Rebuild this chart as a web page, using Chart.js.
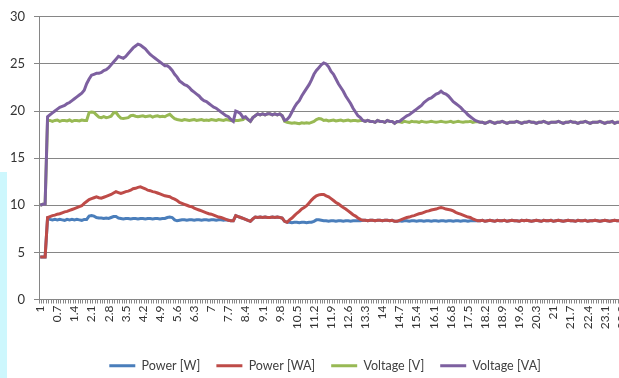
<!DOCTYPE html>
<html>
<head>
<meta charset="utf-8">
<title>Power / Voltage</title>
<script src="https://cdn.jsdelivr.net/npm/chart.js@4.4.0/dist/chart.umd.min.js"></script>
<style>
  html, body { margin: 0; padding: 0; background: #fff; overflow: hidden; }
  #wrap { position: relative; width: 669px; height: 382px; }
  #strip { position: absolute; left: 0; top: 172px; width: 7px; height: 210px; background: #cdf7fd; }
</style>
</head>
<body>
<div id="wrap">
  <canvas id="myChart" width="669" height="382"></canvas>
  <div id="strip"></div>
</div>
<script>
// labels shown under every 7th category
const tickLabels = ["1", "0.7", "1.4", "2.1", "2.8", "3.5", "4.2", "4.9", "5.6", "6.3", "7", "7.7",
  "8.4", "9.1", "9.8", "10.5", "11.2", "11.9", "12.6", "13.3", "14", "14.7", "15.4", "16.1",
  "16.8", "17.5", "18.2", "18.9", "19.6", "20.3", "21", "21.7", "22.4", "23.1", "23.8", "24.5"];

const powerW = [
  4.5, 4.5, 4.5, 8.6, 8.5, 8.45, 8.5, 8.45, 8.5, 8.45,
  8.4, 8.5, 8.45, 8.5, 8.45, 8.5, 8.45, 8.4, 8.5, 8.5,
  8.85, 8.9, 8.85, 8.7, 8.65, 8.65, 8.6, 8.65, 8.6, 8.7,
  8.8, 8.8, 8.65, 8.6, 8.55, 8.6, 8.6, 8.55, 8.6, 8.6,
  8.55, 8.6, 8.6, 8.55, 8.6, 8.6, 8.55, 8.6, 8.6, 8.55,
  8.6, 8.6, 8.7, 8.75, 8.7, 8.45, 8.35, 8.4, 8.45, 8.45,
  8.4, 8.45, 8.45, 8.4, 8.45, 8.45, 8.4, 8.45, 8.45, 8.4,
  8.45, 8.45, 8.4, 8.45, 8.45, 8.4, 8.45, 8.4, 8.35, 8.35,
  8.9, 8.8, 8.7, 8.6, 8.5, 8.4, 8.3, 8.55, 8.75, 8.7,
  8.75, 8.7, 8.75, 8.7, 8.7, 8.75, 8.7, 8.75, 8.7, 8.65,
  8.3, 8.2, 8.2, 8.15, 8.2, 8.2, 8.15, 8.2, 8.2, 8.15,
  8.2, 8.2, 8.3, 8.45, 8.45, 8.4, 8.35, 8.35, 8.3, 8.35,
  8.35, 8.3, 8.35, 8.35, 8.3, 8.35, 8.35, 8.3, 8.35, 8.35,
  8.35, 8.35, 8.4, 8.4, 8.35, 8.4, 8.4, 8.35, 8.4, 8.4,
  8.35, 8.4, 8.4, 8.35, 8.4, 8.3, 8.3, 8.35, 8.3, 8.35,
  8.35, 8.3, 8.35, 8.35, 8.3, 8.35, 8.35, 8.3, 8.35, 8.35,
  8.3, 8.35, 8.35, 8.3, 8.35, 8.35, 8.3, 8.35, 8.35, 8.3,
  8.35, 8.35, 8.3, 8.35, 8.35, 8.3, 8.35, 8.35, 8.35, 8.35,
  8.35, 8.4, 8.3, 8.35, 8.4, 8.35, 8.3, 8.4, 8.35, 8.35,
  8.4, 8.3, 8.35, 8.4, 8.35, 8.35, 8.3, 8.4, 8.35, 8.4,
  8.35, 8.3, 8.35, 8.4, 8.35, 8.3, 8.4, 8.35, 8.35, 8.4,
  8.3, 8.35, 8.4, 8.35, 8.3, 8.35, 8.4, 8.35, 8.35, 8.3,
  8.4, 8.35, 8.35, 8.4, 8.3, 8.35, 8.35, 8.4, 8.35, 8.3,
  8.35, 8.4, 8.35, 8.3, 8.35, 8.4, 8.35, 8.35, 8.3, 8.35,
  8.4, 8.35, 8.35, 8.4, 8.35, 8.3, 8.35, 8.4, 8.35, 8.35
];

const powerWA = [
  4.5, 4.5, 4.5, 8.7, 8.8, 8.9, 8.95, 9.05, 9.1, 9.2,
  9.3, 9.35, 9.45, 9.55, 9.65, 9.75, 9.85, 9.95, 10.2, 10.4,
  10.6, 10.7, 10.8, 10.9, 10.8, 10.75, 10.85, 10.95, 11.05, 11.15,
  11.3, 11.45, 11.35, 11.25, 11.35, 11.45, 11.5, 11.6, 11.75, 11.8,
  11.9, 11.95, 11.85, 11.75, 11.6, 11.55, 11.45, 11.4, 11.3, 11.2,
  11.1, 11.0, 10.95, 10.9, 10.75, 10.65, 10.5, 10.3, 10.2, 10.1,
  10.0, 9.9, 9.85, 9.7, 9.6, 9.5, 9.4, 9.3, 9.2, 9.1,
  9.05, 8.95, 8.85, 8.75, 8.7, 8.6, 8.5, 8.4, 8.35, 8.35,
  8.9, 8.8, 8.7, 8.6, 8.5, 8.4, 8.3, 8.55, 8.75, 8.7,
  8.75, 8.7, 8.75, 8.7, 8.7, 8.75, 8.7, 8.75, 8.7, 8.65,
  8.3, 8.2, 8.45, 8.65, 8.9, 9.15, 9.35, 9.6, 9.75, 9.95,
  10.25, 10.55, 10.8, 11.0, 11.1, 11.15, 11.15, 11.0, 10.9, 10.7,
  10.5, 10.3, 10.15, 9.95, 9.75, 9.6, 9.4, 9.2, 9.0, 8.85,
  8.65, 8.5, 8.4, 8.4, 8.35, 8.4, 8.4, 8.35, 8.4, 8.4,
  8.35, 8.4, 8.4, 8.35, 8.4, 8.3, 8.3, 8.4, 8.5, 8.6,
  8.7, 8.75, 8.85, 8.9, 9.0, 9.1, 9.15, 9.25, 9.35, 9.4,
  9.5, 9.55, 9.6, 9.7, 9.75, 9.7, 9.6, 9.55, 9.5, 9.4,
  9.25, 9.15, 9.05, 8.95, 8.85, 8.75, 8.7, 8.55, 8.45, 8.35,
  8.35, 8.4, 8.3, 8.35, 8.4, 8.35, 8.3, 8.4, 8.35, 8.35,
  8.4, 8.3, 8.35, 8.4, 8.35, 8.35, 8.3, 8.4, 8.35, 8.4,
  8.35, 8.3, 8.35, 8.4, 8.35, 8.3, 8.4, 8.35, 8.35, 8.4,
  8.3, 8.35, 8.4, 8.35, 8.3, 8.35, 8.4, 8.35, 8.35, 8.3,
  8.4, 8.35, 8.35, 8.4, 8.3, 8.35, 8.35, 8.4, 8.35, 8.3,
  8.35, 8.4, 8.35, 8.3, 8.35, 8.4, 8.35, 8.35, 8.3, 8.35,
  8.4, 8.35, 8.35, 8.4, 8.35, 8.3, 8.35, 8.4, 8.35, 8.35
];

const voltageV = [
  10.0, 10.1, 10.1, 19.0, 19.0, 18.9, 19.0, 19.05, 18.9, 19.0,
  19.0, 18.95, 19.05, 18.9, 19.0, 19.0, 18.95, 19.05, 19.0, 19.0,
  19.85, 19.9, 19.85, 19.6, 19.35, 19.3, 19.4, 19.3, 19.35, 19.45,
  19.8, 19.85, 19.5, 19.25, 19.2, 19.25, 19.3, 19.5, 19.55, 19.45,
  19.4, 19.45, 19.5, 19.4, 19.45, 19.5, 19.35, 19.45, 19.5, 19.4,
  19.45, 19.4, 19.55, 19.65, 19.4, 19.2, 19.1, 19.05, 19.0, 19.1,
  19.05, 19.0, 19.05, 19.1, 19.0, 19.05, 19.1, 19.0, 19.05, 19.0,
  19.1, 19.05, 19.0, 19.1, 19.05, 19.0, 19.1, 19.05, 19.0, 18.95,
  19.0, 19.0, 19.05, 19.1, 19.3, 19.1, 18.9, 19.3, 19.5, 19.7,
  19.6, 19.7, 19.6, 19.7, 19.7, 19.6, 19.7, 19.6, 19.7, 19.5,
  18.9, 18.8, 18.75, 18.7, 18.75, 18.7, 18.65, 18.75, 18.7, 18.75,
  18.7, 18.8, 18.9, 19.1, 19.2, 19.15, 19.0, 19.05, 18.95, 19.0,
  19.05, 18.95, 19.0, 19.05, 18.95, 19.0, 19.05, 18.95, 19.0, 19.0,
  18.95, 19.0, 19.0, 18.9, 19.0, 18.9, 18.9, 18.8, 19.0, 18.9,
  18.9, 18.8, 19.0, 18.9, 18.9, 18.7, 18.85, 18.85, 18.8, 18.9,
  18.85, 18.8, 18.9, 18.85, 18.85, 18.8, 18.9, 18.85, 18.8, 18.85,
  18.9, 18.85, 18.8, 18.85, 18.9, 18.85, 18.8, 18.85, 18.9, 18.8,
  18.85, 18.9, 18.85, 18.8, 18.85, 18.85, 18.9, 18.8, 18.85, 18.85,
  18.8, 18.8, 18.7, 18.8, 18.9, 18.8, 18.7, 18.8, 18.8, 18.9,
  18.8, 18.7, 18.8, 18.8, 18.8, 18.9, 18.8, 18.7, 18.8, 18.8,
  18.9, 18.8, 18.8, 18.7, 18.8, 18.8, 18.9, 18.8, 18.7, 18.8,
  18.8, 18.8, 18.9, 18.8, 18.7, 18.8, 18.8, 18.9, 18.8, 18.8,
  18.7, 18.8, 18.8, 18.9, 18.8, 18.7, 18.8, 18.8, 18.8, 18.9,
  18.8, 18.7, 18.8, 18.8, 18.9, 18.7, 18.8, 18.8, 18.7, 18.8,
  18.8, 18.8, 18.8, 18.9, 18.8, 18.7, 18.8, 18.8, 18.9, 18.8
];

const voltageVA = [
  10.0, 10.1, 10.1, 19.4, 19.6, 19.8, 20.0, 20.2, 20.4, 20.5,
  20.6, 20.8, 20.9, 21.1, 21.3, 21.5, 21.7, 21.9, 22.2, 22.9,
  23.4, 23.8, 23.9, 24.0, 24.0, 24.1, 24.3, 24.4, 24.6, 24.9,
  25.2, 25.5, 25.8, 25.7, 25.6, 25.8, 26.1, 26.4, 26.7, 26.9,
  27.1, 27.0, 26.8, 26.6, 26.3, 26.0, 25.8, 25.6, 25.4, 25.2,
  25.0, 24.8, 24.8, 24.6, 24.3, 23.9, 23.6, 23.2, 23.0, 22.8,
  22.7, 22.5, 22.2, 22.0, 21.8, 21.6, 21.3, 21.1, 21.0, 20.8,
  20.6, 20.4, 20.3, 20.1, 19.9, 19.7, 19.5, 19.4, 19.1, 18.9,
  20.0, 19.9, 19.7, 19.3, 19.4, 19.1, 18.9, 19.3, 19.5, 19.7,
  19.6, 19.7, 19.6, 19.7, 19.7, 19.6, 19.7, 19.6, 19.7, 19.5,
  19.0, 19.1, 19.4, 19.9, 20.4, 20.8, 21.1, 21.6, 22.0, 22.4,
  22.8, 23.3, 23.9, 24.3, 24.6, 24.9, 25.1, 25.0, 24.7, 24.2,
  23.9, 23.4, 22.9, 22.5, 22.1, 21.6, 21.2, 20.8, 20.3, 19.9,
  19.5, 19.3, 19.0, 18.9, 19.0, 18.9, 18.9, 18.8, 19.0, 18.9,
  18.9, 18.8, 19.0, 18.9, 18.9, 18.7, 18.9, 18.9, 19.1, 19.3,
  19.5, 19.6, 19.8, 20.0, 20.2, 20.4, 20.6, 20.9, 21.1, 21.3,
  21.4, 21.6, 21.8, 21.9, 22.1, 21.9, 21.8, 21.6, 21.3, 21.0,
  20.8, 20.6, 20.4, 20.1, 19.9, 19.6, 19.4, 19.2, 19.0, 18.9,
  18.8, 18.8, 18.7, 18.8, 18.9, 18.8, 18.7, 18.8, 18.8, 18.9,
  18.8, 18.7, 18.8, 18.8, 18.8, 18.9, 18.8, 18.7, 18.8, 18.8,
  18.9, 18.8, 18.8, 18.7, 18.8, 18.8, 18.9, 18.8, 18.7, 18.8,
  18.8, 18.8, 18.9, 18.8, 18.7, 18.8, 18.8, 18.9, 18.8, 18.8,
  18.7, 18.8, 18.8, 18.9, 18.8, 18.7, 18.8, 18.8, 18.8, 18.9,
  18.8, 18.7, 18.8, 18.8, 18.9, 18.7, 18.8, 18.8, 18.7, 18.8,
  18.8, 18.8, 18.8, 18.9, 18.8, 18.7, 18.8, 18.8, 18.9, 18.8
];

// one category per sample
const categories = powerW.map(function(v, i) { return String(i); });

window.onload = function() {
	createGraph();
} //end window.onload

function createGraph(){
	var ctx = document.getElementById('myChart').getContext('2d');
	var myChart = new Chart(ctx, {
		type: 'line',
		data: {
			labels: categories,
			datasets: [
				{ label: 'Power [W]', data: powerW, borderColor: '#4a7ebb', backgroundColor: '#4a7ebb', order: 4 },
				{ label: 'Power [WA]', data: powerWA, borderColor: '#be4b48', backgroundColor: '#be4b48', order: 3 },
				{ label: 'Voltage [V]', data: voltageV, borderColor: '#98b954', backgroundColor: '#98b954', order: 2 },
				{ label: 'Voltage [VA]', data: voltageVA, borderColor: '#7d60a0', backgroundColor: '#7d60a0', order: 1 }
			]
		},
		options: {
			responsive: false,
			animation: false,
			devicePixelRatio: 1,
			layout: { padding: { top: 8, right: 19, bottom: 0, left: 0 } },
			elements: {
				line: { borderWidth: 3, tension: 0, fill: false },
				point: { radius: 0, hoverRadius: 0 }
			},
			plugins: {
				tooltip: { enabled: false },
				legend: {
					position: 'bottom',
					labels: {
						boxWidth: 26,
						boxHeight: 0,
						padding: 16,
						color: '#404040',
						font: { family: 'Lato', size: 12.5 },
						sort: function(a, b) { return a.datasetIndex - b.datasetIndex; }
					}
				}
			},
			scales: {
				x: {
					offset: true,
					afterFit: function(scale) { scale.height = 44; },
					grid: { offset: true, drawOnChartArea: false, tickLength: 4, color: '#868686' },
					border: { color: '#868686' },
					ticks: {
						autoSkip: false,
						minRotation: 90,
						maxRotation: 90,
						padding: 2,
						color: '#333',
						font: { family: 'Lato', size: 12 },
						callback: function(value, index) {
							if (index % 7 !== 0) return '';
							return tickLabels[index / 7] || '';
						}
					}
				},
				y: {
					min: 0,
					max: 30,
					afterFit: function(scale) { scale.width = 39; },
					grid: { color: '#868686', tickLength: 5 },
					border: { color: '#868686' },
					ticks: {
						stepSize: 5,
						padding: 9,
						color: '#333',
						font: { family: 'Lato', size: 13 }
					}
				}
			}
		}
	});
}
</script>
</body>
</html>
